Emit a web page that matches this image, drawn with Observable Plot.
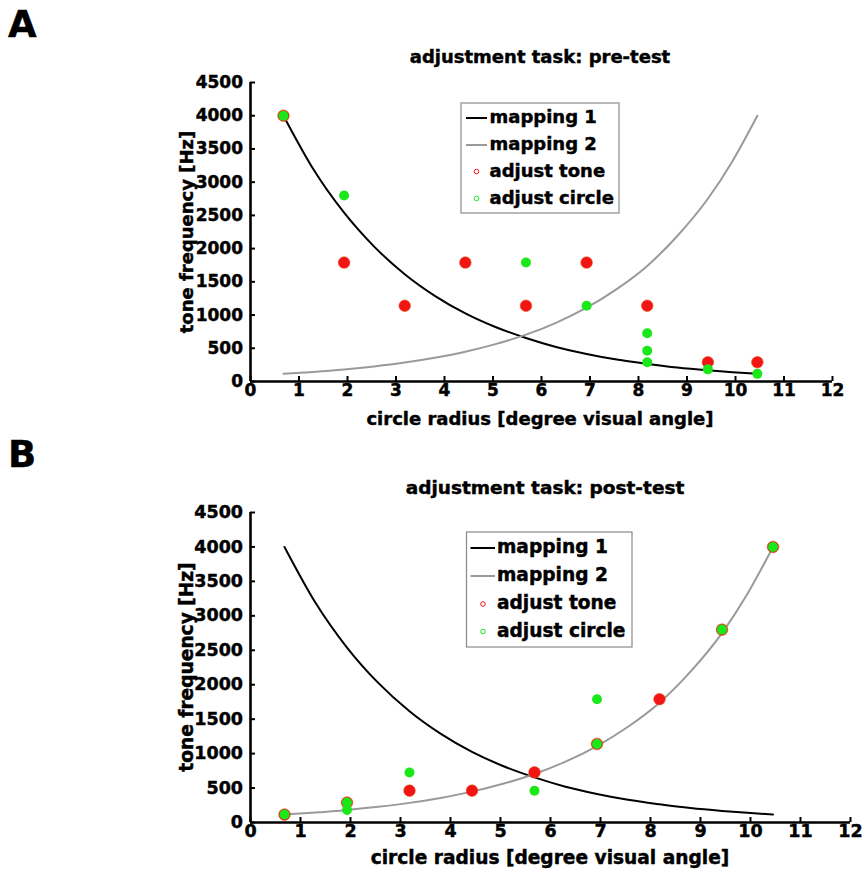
<!DOCTYPE html>
<html><head><meta charset="utf-8">
<script src="https://cdn.jsdelivr.net/npm/d3@7"></script>
<script src="https://cdn.jsdelivr.net/npm/@observablehq/plot@0.6"></script>
<style>
html,body{margin:0;padding:0;background:#fff;}
#wrap{position:relative;width:868px;height:877px;overflow:hidden;}
#wrap svg{position:absolute;left:0;}
#wrap text{stroke:#000;stroke-width:0.45px;}
</style></head><body><div id="wrap"></div>
<script>
// ---- data ----
const xTicks = [0,1,2,3,4,5,6,7,8,9,10,11,12];
const yTicks = [0,500,1000,1500,2000,2500,3000,3500,4000,4500];

const curveX     = [0.68, 1.3, 1.93, 2.55, 3.18, 3.8, 4.43, 5.05, 5.68, 6.3, 6.93, 7.55, 8.18, 8.8, 9.43, 9.94, 10.45];
const mapping1Hz = [4000, 3190, 2540, 2030, 1615, 1290, 1025, 820, 655, 520, 415, 330, 265, 210, 168, 140, 116];
const mapping2Hz = [115, 144, 181, 227, 285, 357, 448, 562, 705, 883, 1110, 1390, 1740, 2190, 2750, 3320, 4000];

const preToneX    = [0.68, 1.93, 3.18, 4.43, 5.68, 6.93, 8.18, 9.43, 10.45];
const preToneY    = [4000, 1790, 1140, 1790, 1140, 1790, 1140, 290, 290];
const preCircleX  = [0.68, 1.93, 5.68, 6.93, 8.18, 8.18, 8.18, 9.43, 10.45];
const preCircleY  = [4000, 2800, 1790, 1140, 727, 462, 290, 183, 115];

const postToneX   = [0.68, 1.93, 3.18, 4.43, 5.68, 6.93, 8.18, 9.43, 10.45];
const postToneY   = [115, 290, 462, 462, 727, 1140, 1790, 2800, 4000];
const postCircleX = [0.68, 1.93, 1.93, 3.18, 5.68, 6.93, 6.93, 9.43, 10.45];
const postCircleY = [115, 290, 183, 727, 462, 1790, 1140, 2800, 4000];

const legendLabels = ["mapping 1", "mapping 2", "adjust tone", "adjust circle"];
const titles = ["adjustment task: pre-test", "adjustment task: post-test"];
const xLabel = "circle radius [degree visual angle]";
const yLabel = "tone frequency [Hz]";
const panelLetters = ["A", "B"];

// ---- build ----
const FONT = "DejaVu Sans, sans-serif";
const RED = "#f31414", GREEN = "#1be81b", GRAY = "#9a9a9a";
const zip = (xs, ys) => xs.map((x, i) => ({x, y: ys[i]}));
const m1 = zip(curveX, mapping1Hz), m2 = zip(curveX, mapping2Hz);

function panel(o) {
  return Plot.plot({
    width: 868, height: o.height,
    marginLeft: o.ml, marginRight: o.mr, marginTop: o.mt, marginBottom: o.mb,
    x: {domain: [0, 12]}, y: {domain: [0, 4500]},
    style: {fontFamily: FONT, background: "transparent", color: "black", overflow: "visible"},
    marks: [
      Plot.axisX(xTicks, {anchor: "bottom", tickSize: -5, tickPadding: o.xpad, fontSize: o.fs, fontWeight: "bold", strokeWidth: 2, label: null, tickFormat: d => String(d)}),
      Plot.axisY(yTicks, {anchor: "left", tickSize: -5, tickPadding: 12.5, fontSize: o.fs, fontWeight: "bold", strokeWidth: 2, label: null, tickFormat: d => String(d)}),
      Plot.line(m1, {x: "x", y: "y", stroke: "black", strokeWidth: 2, curve: "monotone-x"}),
      Plot.line(m2, {x: "x", y: "y", stroke: GRAY, strokeWidth: 2, curve: "monotone-x"}),
      Plot.dot(zip(o.tx, o.ty), {x: "x", y: "y", r: 5.8, fill: RED, stroke: "#e0501a", strokeWidth: 0.6}),
      Plot.dot(zip(o.cx, o.cy), {x: "x", y: "y", r: 5, fill: GREEN}),
      Plot.ruleX([0], {strokeWidth: 2.6}),
      Plot.ruleY([0], {strokeWidth: 2.6})
    ]
  });
}

const wrap = document.getElementById("wrap");
const A = panel({height: 440, mt: 82, mb: 59, ml: 250, mr: 36, fs: 17, xpad: 7,
  tx: preToneX, ty: preToneY, cx: preCircleX, cy: preCircleY});
A.style.top = "0px";
wrap.appendChild(A);
const B = panel({height: 437, mt: 72, mb: 55, ml: 250, mr: 18, fs: 17.5, xpad: 7,
  tx: postToneX, ty: postToneY, cx: postCircleX, cy: postCircleY});
B.style.top = "440px";
wrap.appendChild(B);

// overlay text and legends
const ov = d3.create("svg").attr("width", 868).attr("height", 877)
  .style("top", "0px").style("font-family", FONT).style("font-weight", "bold");
function txt(s, x, y, size, anchor = "middle", rot = 0) {
  const t = ov.append("text").attr("font-size", size).attr("text-anchor", anchor).attr("fill", "black").text(s);
  if (rot) t.attr("transform", `translate(${x},${y}) rotate(${rot})`); else t.attr("x", x).attr("y", y);
  return t;
}
txt(panelLetters[0], 8, 37, 37, "start");
txt(panelLetters[1], 8, 467, 37, "start");
txt(titles[0], 540, 63, 18);
txt(titles[1], 545, 494, 18.5);
txt(xLabel, 540, 425, 18);
txt(xLabel, 550, 864, 18.6);
txt(yLabel, 192.5, 232, 18, "middle", -90);
txt(yLabel, 192.5, 667, 18.6, "middle", -90);

function legend(L) {
  ov.append("rect").attr("x", L.x0).attr("y", L.y0).attr("width", L.x1 - L.x0).attr("height", L.y1 - L.y0)
    .attr("fill", "white").attr("stroke", "#8a8a8a").attr("stroke-width", 1.2);
  const styles = [{line: "black"}, {line: GRAY}, {dot: RED}, {dot: GREEN}];
  legendLabels.forEach((lab, i) => {
    const cy = L.rows[i];
    const s = styles[i];
    if (s.line) ov.append("line").attr("x1", L.l0).attr("x2", L.l1).attr("y1", cy).attr("y2", cy).attr("stroke", s.line).attr("stroke-width", 2);
    else ov.append("circle").attr("cx", L.mx).attr("cy", cy).attr("r", 2.3).attr("fill", "none").attr("stroke", s.dot).attr("stroke-width", 1);
    txt(lab, L.tx, cy + 5, L.fs, "start");
  });
}
legend({x0: 461, y0: 103, x1: 619, y1: 213, l0: 466, l1: 487, mx: 476.5, tx: 489.5, fs: 18, rows: [118, 145, 171.5, 198.5]});
legend({x0: 466.5, y0: 532, x1: 632, y1: 647, l0: 470.5, l1: 495, mx: 483, tx: 497, fs: 18.6, rows: [548, 576, 604, 631.5]});

wrap.appendChild(ov.node());
</script></body></html>
